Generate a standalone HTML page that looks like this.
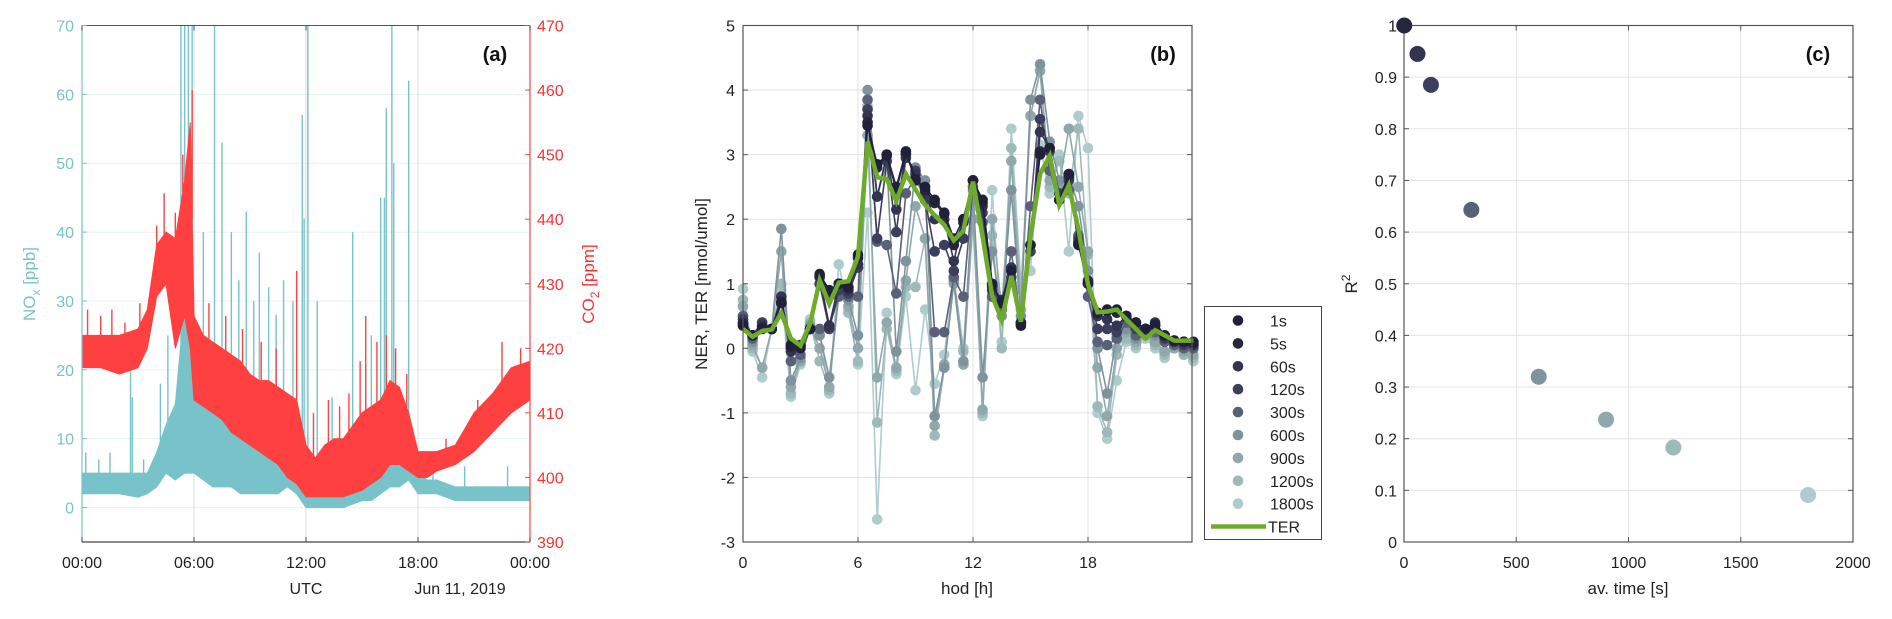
<!DOCTYPE html>
<html><head><meta charset="utf-8"><style>
html,body{margin:0;padding:0;background:#fff}
svg{display:block;font-family:"Liberation Sans",Arial,sans-serif}
</style></head><body>
<svg id="fig" width="1892" height="619" viewBox="0 0 1892 619" xmlns="http://www.w3.org/2000/svg">
<g id="pa"></g>
<g id="pb"></g>
<g id="pc"></g>
</svg>
<script>
// ---------- Panel (a) data ----------
const aHours = [0,1,2,3,3.5,4,4.5,5,5.5,5.8,6,6.5,7,7.5,8,8.5,9,9.5,10,10.5,11,11.5,12,12.5,13,13.5,14,15,15.5,16,16.5,17,17.5,18,18.5,19,20,21,22,23,24];
const noxLow  = [2,2,2,1.5,2,3,5,4,5,5,5,4,3,3,3,2,2,2,2,2,3,2,0,0,0,0,0,1,1,2,3,3,4,2,2,2,1,1,1,1,1];
const noxHigh = [5,5,5,5,5,8,12,15,30,25,18,16,15,14,13,12,11,10,8,7,6,5,3,2,3,3,3,3,4,5,8,6,8,5,4,4,3,3,3,3,3];
const noxSpikeT = [0.2,0.9,1.5,2.6,2.7,3.3,4.2,4.6,5.3,5.5,5.7,5.9,6.5,7.1,7.5,8.0,8.4,8.8,9.2,9.5,10.0,10.4,10.8,11.3,11.8,11.9,12.1,12.6,13.4,14.5,15.2,15.5,16.0,16.2,16.3,16.6,16.7,17.5,18.8,20.5,22.8];
const noxSpikeV = [8,7,8,23,16,7,18,25,70,70,70,70,40,70,53,40,33,43,30,37,32,28,33,30,57,42,70,30,16,40,20,25,45,45,58,70,50,62,8,6,6];
const co2SpikeT = [0.3,1.0,1.6,2.3,3.1,4.0,4.4,5.0,5.4,5.9,6.8,7.7,8.6,9.6,10.4,11.5,12.4,13.2,13.8,14.3,14.9,15.2,15.8,16.3,16.8,17.4,19.5,21.2,22.5,23.5];
const co2SpikeV = [426,425,426,424,427,439,444,441,450,460,427,425,423,421,420,432,410,412,411,413,418,425,421,422,420,416,406,412,421,420];
const co2Low  = [417,417,416,417,420,428,430,420,425,420,412,411,410,409,407,406,405,404,403,402,400,399,397,397,397,397,397,398,399,400,402,402,401,400,400,401,402,404,407,410,412];
const co2High = [422,422,422,423,426,436,438,437,446,455,425,422,421,420,419,418,416,415,415,414,413,412,405,403,405,406,406,410,411,412,415,414,410,404,404,404,405,410,413,417,418];
const aXTicks = ["00:00","06:00","12:00","18:00","00:00"];
const noxTicks = [0,10,20,30,40,50,60,70];
const co2Ticks = [390,400,410,420,430,440,450,460,470];

// ---------- Panel (b) data ----------
const hod = [0,0.5,1,1.5,2,2.5,3,3.5,4,4.5,5,5.5,6,6.5,7,7.5,8,8.5,9,9.5,10,10.5,11,11.5,12,12.5,13,13.5,14,14.5,15,15.5,16,16.5,17,17.5,18,18.5,19,19.5,20,20.5,21,21.5,22,22.5,23,23.5];
const seriesNames = ["1s","5s","60s","120s","300s","600s","900s","1200s","1800s"];
const s1    = [0.35,0.2,0.3,0.3,0.7,0.05,0.0,0.3,1.15,0.9,1.0,0.95,1.45,3.45,2.85,3.0,2.5,3.05,2.6,2.5,2.3,2.1,1.7,2.0,2.6,2.3,1.0,0.7,1.2,0.35,1.6,3.0,3.1,2.3,2.7,1.6,1.0,0.55,0.6,0.6,0.5,0.4,0.3,0.35,0.2,0.12,0.1,0.1];
const s5    = [0.38,0.2,0.32,0.3,0.72,0.02,0.02,0.3,1.12,0.85,1.0,0.93,1.4,3.5,2.8,2.98,2.45,3.02,2.62,2.45,2.25,2.08,1.6,1.95,2.6,2.25,0.98,0.72,1.2,0.38,1.6,3.05,3.1,2.3,2.68,1.62,1.02,0.55,0.58,0.55,0.5,0.4,0.3,0.37,0.2,0.12,0.1,0.08];
const s60   = [0.4,0.2,0.35,0.3,0.8,-0.05,0.05,0.3,1.1,0.35,1.0,0.9,1.3,3.6,2.35,3.0,2.15,3.0,2.7,2.4,2.0,2.0,1.35,2.0,2.6,2.2,0.95,0.75,1.25,0.4,1.6,3.35,3.1,2.3,2.65,1.65,1.05,0.5,0.45,0.35,0.5,0.4,0.3,0.4,0.2,0.1,0.1,0.05];
const s120  = [0.45,0.2,0.4,0.3,0.7,0.0,0.05,0.3,1.0,0.3,0.9,0.85,1.25,3.7,1.7,2.9,1.8,2.95,2.75,2.3,1.5,1.6,1.2,1.7,2.6,2.1,0.9,0.7,1.1,0.4,1.5,3.55,3.05,2.4,2.6,1.7,1.0,0.3,0.3,0.25,0.5,0.3,0.3,0.35,0.15,0.1,0.05,0.05];
const s300  = [0.5,0.15,0.35,0.3,0.8,-0.2,-0.1,0.3,0.3,0.35,0.8,0.8,0.8,3.85,1.65,1.6,0.85,2.4,2.65,2.3,0.25,0.25,1.1,0.8,2.5,1.95,0.8,0.6,1.5,0.4,2.2,3.85,2.75,2.3,2.45,1.75,0.8,0.1,0.05,0.15,0.4,0.2,0.25,0.25,0.1,0.05,0.0,0.0];
const s600  = [0.5,0.1,0.4,0.3,1.85,-0.5,-0.15,0.35,0.2,-0.45,0.8,0.75,0.2,4.0,2.35,2.9,-0.05,1.35,2.8,2.6,-1.05,-0.3,1.05,-0.2,2.45,-0.45,1.5,0.5,2.45,0.5,3.85,4.4,3.2,2.6,2.7,2.2,1.2,0.0,-0.7,0.2,0.3,0.15,0.25,0.2,0.1,0.05,0.0,0.0];
const s900  = [0.65,0.05,-0.3,0.3,1.5,-0.6,-0.2,0.35,0.0,-0.6,0.9,0.65,0.0,3.3,-0.45,0.4,-0.3,1.05,2.2,1.7,-1.2,-0.25,1.0,-0.25,2.0,-0.95,2.0,0.6,2.9,0.6,3.6,4.3,2.6,2.55,3.4,2.5,1.5,-0.3,-1.05,0.0,0.25,0.1,0.2,0.1,-0.05,0.0,-0.05,-0.1];
const s1200 = [0.75,0.0,-0.3,0.3,1.0,-0.7,-0.2,0.4,-0.2,-0.65,0.95,0.55,-0.2,3.75,-1.15,0.3,-0.35,0.95,0.95,1.7,-1.35,-0.3,1.1,-0.05,2.3,-1.0,1.75,0.0,3.1,0.9,3.6,4.3,2.5,2.9,2.4,3.4,1.45,-0.9,-1.3,-0.1,0.15,0.05,0.2,0.05,-0.1,0.0,-0.1,-0.15];
const s1800 = [0.92,-0.05,-0.45,0.3,0.9,-0.75,-0.25,0.45,0.25,-0.7,1.3,0.6,-0.25,2.1,-2.65,0.55,-0.4,0.8,-0.65,0.6,-0.55,-0.1,1.1,0.0,2.2,-1.05,2.45,0.1,3.4,1.0,1.2,3.15,2.4,3.0,1.5,3.6,3.1,-1.0,-1.4,-0.5,0.1,0.0,0.15,0.0,-0.15,0.0,-0.1,-0.2];
const ter   = [0.3,0.18,0.27,0.29,0.55,0.15,0.04,0.38,1.05,0.69,1.02,1.04,1.42,3.2,2.65,2.62,2.28,2.7,2.46,2.22,2.06,1.91,1.67,1.82,2.58,1.73,0.81,0.44,1.12,0.41,1.73,2.7,2.98,2.22,2.52,1.85,0.99,0.56,0.57,0.6,0.45,0.3,0.15,0.28,0.2,0.12,0.12,0.12];
const bXTicks = [0,6,12,18];
const bYTicks = [-3,-2,-1,0,1,2,3,4,5];

// ---------- Panel (c) data ----------
const avTime = [1,60,120,300,600,900,1200,1800];
const r2 = [1.0,0.945,0.885,0.643,0.32,0.237,0.183,0.091];
const cXTicks = [0,500,1000,1500,2000];
const cYTicks = [0,0.1,0.2,0.3,0.4,0.5,0.6,0.7,0.8,0.9,1];

const colors = ["#20203a","#262640","#33344f","#3c3e5d","#5a6079","#7f939d","#8ea8ac","#9db9ba","#afcccc"];
const NS = "http://www.w3.org/2000/svg";
function el(parent, tag, attrs, text){
  const e = document.createElementNS(NS, tag);
  for (const k in attrs) e.setAttribute(k, attrs[k]);
  if (text !== undefined) e.textContent = text;
  parent.appendChild(e);
  return e;
}
function interp(xs, ys, t){
  for (let i=0;i<xs.length-1;i++){
    if (t>=xs[i] && t<=xs[i+1]) return ys[i]+(ys[i+1]-ys[i])*(t-xs[i])/(xs[i+1]-xs[i]);
  }
  return ys[ys.length-1];
}
const TOP = 25.5, BOT = 542;

// ================= Panel A =================
(function(){
  const g = document.getElementById('pa');
  const L = 82, R = 530;
  const x = h => L + h*(R-L)/24;
  const yN = v => BOT - (v+5)*(BOT-TOP)/75;
  const yC = v => BOT - (v-390)*(BOT-TOP)/80;
  noxTicks.forEach(v => {
    const l = el(g,'line',{x1:L,x2:R,y1:yN(v),y2:yN(v),stroke:'#e4f2f3','stroke-width':1});
    
    
  });
  [6,12,18].forEach(h => {
    const l = el(g,'line',{x1:x(h),x2:x(h),y1:TOP,y2:BOT,stroke:'#dcdcdc','stroke-width':1});
    
    
  });
  let pts = aHours.map((h,i)=>x(h)+','+yN(noxHigh[i])).concat(aHours.slice().reverse().map((h,j)=>{const i=aHours.length-1-j;return x(h)+','+yN(noxLow[i]);}));
  const nb = el(g,'polygon',{points:pts.join(' '),fill:'#78c3c9',stroke:'#78c3c9','stroke-width':1});
  
  
  noxSpikeT.forEach((h,i)=>{
    const base = interp(aHours, noxHigh, h);
    const s = el(g,'line',{x1:x(h),x2:x(h),y1:yN(base),y2:yN(noxSpikeV[i]),stroke:'#78c3c9','stroke-width':1.4});
    
    
  });
  pts = aHours.map((h,i)=>x(h)+','+yC(co2High[i])).concat(aHours.slice().reverse().map((h,j)=>{const i=aHours.length-1-j;return x(h)+','+yC(co2Low[i]);}));
  const cb = el(g,'polygon',{points:pts.join(' '),fill:'#ff4040',stroke:'#ff4040','stroke-width':1});
  
  
  co2SpikeT.forEach((h,i)=>{
    const base = interp(aHours, co2High, h);
    const s = el(g,'line',{x1:x(h),x2:x(h),y1:yC(base),y2:yC(co2SpikeV[i]),stroke:'#ff4040','stroke-width':1.4});
    
    
  });
  el(g,'line',{x1:L,x2:R,y1:TOP,y2:TOP,stroke:'#555','stroke-width':1});
  el(g,'line',{x1:L,x2:R,y1:BOT,y2:BOT,stroke:'#444','stroke-width':1.2});
  el(g,'line',{x1:L,x2:L,y1:TOP,y2:BOT,stroke:'#78c3c9','stroke-width':1.2});
  el(g,'line',{x1:R,x2:R,y1:TOP,y2:BOT,stroke:'#ff4040','stroke-width':1.2});
  noxTicks.forEach(v => {
    el(g,'line',{x1:L,x2:L+5,y1:yN(v),y2:yN(v),stroke:'#78c3c9'});
    const t = el(g,'text',{x:L-8,y:yN(v)+6,'text-anchor':'end','font-size':16,fill:'#78c3c9'},String(v));
    
    
  });
  co2Ticks.forEach(v => {
    el(g,'line',{x1:R-5,x2:R,y1:yC(v),y2:yC(v),stroke:'#ff4040'});
    const t = el(g,'text',{x:R+7,y:yC(v)+6,'text-anchor':'start','font-size':16,fill:'#ff3030'},String(v));
    
    
  });
  aXTicks.forEach((lab,i) => {
    el(g,'line',{x1:x(i*6),x2:x(i*6),y1:BOT,y2:BOT-5,stroke:'#444'});
    el(g,'line',{x1:x(i*6),x2:x(i*6),y1:TOP,y2:TOP+5,stroke:'#444'});
    const t = el(g,'text',{x:x(i*6),y:568,'text-anchor':'middle','font-size':16,fill:'#222'},lab);
    
    
  });
  g.insertAdjacentHTML('beforeend',
   '<text x="306" y="594" text-anchor="middle" font-size="16" fill="#222">UTC</text>'+
   '<text x="460" y="594" text-anchor="middle" font-size="16" fill="#222">Jun 11, 2019</text>'+
   '<text x="495" y="61" text-anchor="middle" font-size="20" font-weight="bold" fill="#111">(a)</text>'+
   '<text transform="translate(35,284) rotate(-90)" text-anchor="middle" font-size="17" fill="#78c3c9">NO<tspan font-size="12" dy="5">x</tspan><tspan dy="-5"> [ppb]</tspan></text>'+
   '<text transform="translate(594,284) rotate(-90)" text-anchor="middle" font-size="17" fill="#ff3030">CO<tspan font-size="12" dy="5">2</tspan><tspan dy="-5"> [ppm]</tspan></text>');
})();

// ================= Panel B =================
(function(){
  const g = document.getElementById('pb');
  const L = 743, R = 1192;
  const x = h => L + h*115/6;
  const y = v => BOT - (v+3)*(BOT-TOP)/8;
  bYTicks.forEach(v => {
    const l = el(g,'line',{x1:L,x2:R,y1:y(v),y2:y(v),stroke:'#e3e3e3'});
    
    
  });
  bXTicks.forEach(h => {
    const l = el(g,'line',{x1:x(h),x2:x(h),y1:TOP,y2:BOT,stroke:'#e3e3e3'});
    
    
  });
  const all = [s1,s5,s60,s120,s300,s600,s900,s1200,s1800];
  for (let k = all.length-1; k >= 0; k--) {
    const sg = el(g,'g',{});
    
    
    const d = all[k].map((v,i)=>(i?'L':'M')+x(hod[i]).toFixed(1)+','+y(v).toFixed(1)).join(' ');
    el(sg,'path',{d:d,fill:'none',stroke:colors[k],'stroke-width':1.6});
    all[k].forEach((v,i)=>{
      const c = el(sg,'circle',{cx:x(hod[i]),cy:y(v),r:5.3,fill:colors[k]});
      
      
    });
  }
  const tl = el(g,'path',{d:ter.map((v,i)=>(i?'L':'M')+x(hod[i]).toFixed(1)+','+y(v).toFixed(1)).join(' '),fill:'none',stroke:'#6eab2c','stroke-width':4.5,'stroke-linejoin':'miter'});
  
  
  el(g,'rect',{x:L,y:TOP,width:R-L,height:BOT-TOP,fill:'none',stroke:'#555','stroke-width':1.2});
  bYTicks.forEach(v => {
    el(g,'line',{x1:L,x2:L+5,y1:y(v),y2:y(v),stroke:'#555'});
    el(g,'line',{x1:R-5,x2:R,y1:y(v),y2:y(v),stroke:'#555'});
    const t = el(g,'text',{x:L-8,y:y(v)+6,'text-anchor':'end','font-size':16,fill:'#222'},String(v));
    
    
  });
  bXTicks.forEach(h => {
    el(g,'line',{x1:x(h),x2:x(h),y1:BOT,y2:BOT-5,stroke:'#555'});
    el(g,'line',{x1:x(h),x2:x(h),y1:TOP,y2:TOP+5,stroke:'#555'});
    const t = el(g,'text',{x:x(h),y:568,'text-anchor':'middle','font-size':16,fill:'#222'},String(h));
    
    
  });
  g.insertAdjacentHTML('beforeend',
   '<text x="967" y="594" text-anchor="middle" font-size="17" fill="#222">hod [h]</text>'+
   '<text transform="translate(707,284) rotate(-90)" text-anchor="middle" font-size="17" fill="#222">NER, TER [nmol/umol]</text>'+
   '<text x="1163" y="61" text-anchor="middle" font-size="20" font-weight="bold" fill="#111">(b)</text>');
  const lg = el(g,'g',{});
  
  
  el(lg,'rect',{x:1204.5,y:306.5,width:117,height:233,fill:'#fff',stroke:'#444','stroke-width':1});
  seriesNames.forEach((n,k)=>{
    const ly = 320.5 + k*22.9;
    const e = el(lg,'g',{});
    
    
    el(e,'circle',{cx:1238,cy:ly,r:5.3,fill:colors[k]});
    el(e,'text',{x:1270,y:ly+6,'font-size':16,fill:'#222'},n);
  });
  const te = el(lg,'g',{});
  
  
  el(te,'line',{x1:1211,x2:1266,y1:526.5,y2:526.5,stroke:'#6eab2c','stroke-width':4.5});
  el(te,'text',{x:1268,y:532.5,'font-size':16,fill:'#222'},'TER');
})();

// ================= Panel C =================
(function(){
  const g = document.getElementById('pc');
  const L = 1404, R = 1853;
  const x = v => L + v*(R-L)/2000;
  const y = v => BOT - v*(BOT-TOP);
  cYTicks.forEach(v => {
    const l = el(g,'line',{x1:L,x2:R,y1:y(v),y2:y(v),stroke:'#e3e3e3'});
    
    
  });
  cXTicks.forEach(v => {
    const l = el(g,'line',{x1:x(v),x2:x(v),y1:TOP,y2:BOT,stroke:'#e3e3e3'});
    
    
  });
  el(g,'rect',{x:L,y:TOP,width:R-L,height:BOT-TOP,fill:'none',stroke:'#555','stroke-width':1.2});
  cYTicks.forEach(v => {
    el(g,'line',{x1:L,x2:L+5,y1:y(v),y2:y(v),stroke:'#555'});
    el(g,'line',{x1:R-5,x2:R,y1:y(v),y2:y(v),stroke:'#555'});
    const t = el(g,'text',{x:L-7,y:y(v)+6,'text-anchor':'end','font-size':16,fill:'#222'},String(v));
    
    
  });
  cXTicks.forEach(v => {
    el(g,'line',{x1:x(v),x2:x(v),y1:BOT,y2:BOT-5,stroke:'#555'});
    el(g,'line',{x1:x(v),x2:x(v),y1:TOP,y2:TOP+5,stroke:'#555'});
    const t = el(g,'text',{x:x(v),y:568,'text-anchor':'middle','font-size':16,fill:'#222'},String(v));
    
    
  });
  avTime.forEach((t,i)=>{
    const c = el(g,'circle',{cx:x(t),cy:y(r2[i]),r:8,fill:colors[i+1]});
    
    
  });
  g.insertAdjacentHTML('beforeend',
   '<text x="1628" y="594" text-anchor="middle" font-size="17" fill="#222">av. time [s]</text>'+
   '<text transform="translate(1357,284) rotate(-90)" text-anchor="middle" font-size="17" fill="#222">R<tspan font-size="12" dy="-7">2</tspan></text>'+
   '<text x="1818" y="61" text-anchor="middle" font-size="20" font-weight="bold" fill="#111">(c)</text>');
})();
</script>
</body></html>
